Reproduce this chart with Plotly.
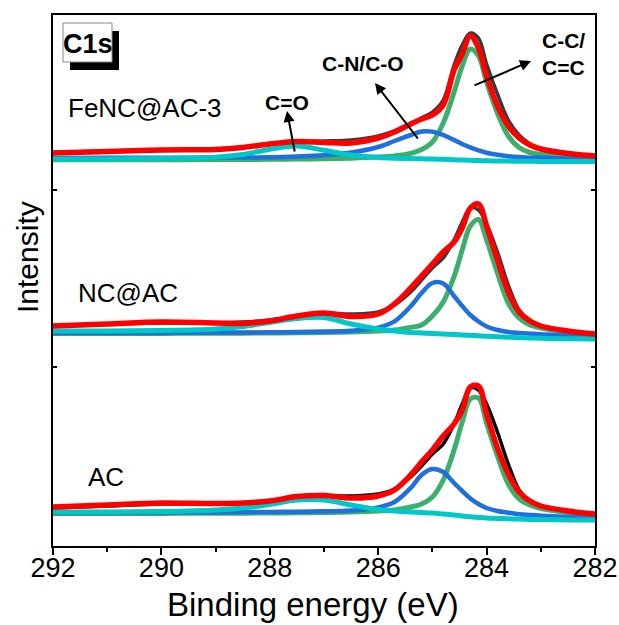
import numpy as np
import plotly.graph_objects as go

# Binding energy grid (eV)
energy = [292, 291, 290, 289, 288.5, 288, 287.5, 287, 286.5, 286, 285.7, 285.4, 285.2,
          285.0, 284.8, 284.6, 284.45, 284.3, 284.15, 284.0, 283.8, 283.6, 283.4, 283.2,
          283.0, 282.5, 282]

# FeNC@AC-3
fenc_raw = [9.5, 11, 12, 13, 15, 18, 20, 21, 22, 26, 31, 38, 44, 50, 62, 97, 117, 129, 124, 98, 68, 42, 27, 18, 13, 8, 5.5]
fenc_env = [9, 10.5, 12, 12.5, 14.5, 18, 20.5, 19.5, 19, 24, 30, 38, 43, 47, 57, 92, 108, 126, 114, 86, 56, 36, 24, 17, 13, 8.5, 6]
fenc_cc = [2.2, 2.2, 2.3, 2.4, 2.5, 2.7, 2.9, 3.2, 3.8, 4.9, 6.1, 8.6, 12.5, 20, 39, 70, 96, 113, 106, 80, 49, 26, 14.5, 9.5, 7.5, 5.8, 4.5]
fenc_cn = [4.1, 4.2, 4.3, 4.4, 4.5, 4.7, 5.5, 6.8, 9.5, 15, 21, 27, 30.5, 30.4, 27, 22, 18, 14.6, 11.7, 9.2, 7.2, 5.8, 4.9, 4.3, 4.2, 3.6, 3]
fenc_co = [3, 3.1, 3.5, 4.8, 7.5, 12.7, 16, 11.8, 6.9, 4.5, 3.8, 3.5, 3.2, 3.0, 2.7, 2.3, 2, 1.7, 1.4, 1.2, 1, 0.9, 0.8, 0.7, 0.6, 0.5, 0.5]

# NC@AC
nc_raw = [14.5, 16, 17, 17, 18, 20, 24, 27, 26, 28, 35, 48, 60, 72, 82, 100, 118, 132, 130, 116, 88, 55, 30, 19, 13, 8, 5.5]
nc_env = [14, 16, 18, 17, 16.5, 19, 24, 27, 23.5, 26, 36, 52, 64, 76, 88, 98, 112, 132, 136, 114, 80, 48, 28, 19, 14, 9, 6]
nc_cc = [6.5, 6.5, 6.6, 6.7, 6.8, 7, 7.2, 7.5, 8, 9, 10, 12.6, 15, 24, 38, 63.5, 90, 114, 120.5, 100, 67, 37, 22, 15, 12, 8.5, 5.5]
nc_cn = [7, 7, 7.1, 7.4, 7.5, 7.7, 7.9, 8.4, 9.3, 12.4, 18.6, 33.7, 47, 57, 56.5, 44, 34, 25, 18.5, 13.5, 10, 8, 7, 6.3, 5.7, 5, 4.5]
nc_co = [9, 9, 9.5, 11, 13.5, 17.5, 21.5, 22.5, 16, 11, 9, 7.5, 7, 6.5, 6, 5.5, 5, 4.6, 4.2, 3.8, 3.3, 2.8, 2.3, 2, 1.7, 1.2, 1]

# AC
ac_raw = [14, 16, 18, 18, 19, 21, 24, 26, 26, 28, 33, 45, 56, 68, 78, 98, 118, 134, 132, 118, 90, 58, 32, 20, 15, 10, 7]
ac_env = [15, 17, 19, 18.5, 19, 21, 25.5, 26.5, 24, 26, 32, 47, 60, 72, 86, 98, 112, 135, 136, 108, 74, 48, 30, 21, 16, 11, 8]
ac_cc = [8.5, 8.5, 8.6, 8.7, 8.8, 9, 9.2, 9.5, 10, 11, 12, 15, 18, 25, 42, 72, 100, 123, 124, 99, 66, 38, 23, 17, 13.5, 9.5, 7]
ac_cn = [9.5, 9.5, 9.6, 9.8, 9.9, 10, 10.3, 10.7, 11.5, 14.5, 20, 34, 47, 53, 50, 39, 31, 23.5, 18, 14, 11, 9.3, 7.8, 7, 6.3, 5, 4]
ac_co = [10, 10, 10.5, 12, 14, 17.5, 22, 22, 17, 12.5, 11, 10, 9.5, 9, 8, 7, 6, 5.2, 4.6, 4, 3.6, 3.2, 2.9, 2.6, 2.4, 2.1, 2]

sample_names = ["FeNC@AC-3", "NC@AC", "AC"]
stack_offsets = [384, 206, 24]

RED = "#FF0000"
GREEN = "#3BAF6B"
BLUE = "#1F6FDE"
CYAN = "#00C8C8"
FONT = "Liberation Sans, Arial, sans-serif"

panels = [
    (fenc_raw, fenc_env, fenc_cc, fenc_cn, fenc_co, "#3A3A3A"),
    (nc_raw, nc_env, nc_cc, nc_cn, nc_co, "#3A3A3A"),
    (ac_raw, ac_env, ac_cc, ac_cn, ac_co, "#000000"),
]

fig = go.Figure()
for name, off, (raw, env, cc, cn, co, raw_col) in zip(sample_names, stack_offsets, panels):
    for vals, col, w in [(raw, raw_col, 3.5), (cc, GREEN, 5), (cn, BLUE, 4.5),
                         (co, CYAN, 5), (env, RED, 5.5)]:
        fig.add_trace(go.Scatter(
            x=energy, y=np.array(vals) + off, mode="lines",
            line=dict(color=col, width=w, shape="spline", smoothing=1.0),
            showlegend=False, hoverinfo="skip", name=name))

# plot area in pixels
L, R, T, B = 53, 595, 15, 546
W, H = 619, 625


def px(x):
    return (x - L) / (R - L)


def py(y):
    return (B - y) / (B - T)


def label(x, y, text, size, bold=False, xanchor="center", **kw):
    return dict(x=px(x), y=py(y), xref="paper", yref="paper",
                text=f"<b>{text}</b>" if bold else text, showarrow=False,
                xanchor=xanchor, yanchor="middle",
                font=dict(family=FONT, size=size, color="black"), **kw)


annotations = []
# sample names
for name, (xl, yc) in zip(sample_names, [(66, 108), (76, 293), (86, 477)]):
    annotations.append(label(xl, yc, name, 26, xanchor="left"))

# component labels
annotations.append(label(287, 102, "C=O", 21, bold=True))
annotations.append(label(363, 64, "C-N/C-O", 21, bold=True))
annotations.append(label(540, 54, "C-C/<br>C=C", 21, bold=True, xanchor="left", align="left"))

# arrows: (head x, head y, tail dx, tail dy)
for hx, hy, dx, dy in [(287, 111, 8, 42), (375, 83, 44, 57), (531, 61, -58, 25)]:
    annotations.append(dict(x=px(hx), y=py(hy), xref="paper", yref="paper", text="",
                            showarrow=True, ax=dx, ay=dy, arrowhead=2, arrowsize=1.1,
                            arrowwidth=2, arrowcolor="black"))

# C1s tag
annotations.append(label(88, 44, "C1s", 27, bold=True))

# axis titles
annotations.append(label(27, 257, "Intensity", 30, textangle=-90))
annotations.append(label(313, 604, "Binding energy (eV)", 33))

shapes = [
    dict(type="rect", xref="paper", yref="paper", x0=px(70), x1=px(119), y0=py(31), y1=py(70),
         fillcolor="black", line=dict(width=0), layer="above"),
    dict(type="rect", xref="paper", yref="paper", x0=px(63), x1=px(112), y0=py(23), y1=py(62),
         fillcolor="white", line=dict(color="#8A8A8A", width=1), layer="above"),
]

fig.update_layout(
    width=W, height=H, autosize=False,
    margin=dict(l=L, r=W - R, t=T, b=H - B, pad=0, autoexpand=False),
    paper_bgcolor="white", plot_bgcolor="white",
    annotations=annotations, shapes=shapes,
    xaxis=dict(range=[292, 282], tickvals=[292, 290, 288, 286, 284, 282],
               ticks="outside", ticklen=7, tickwidth=2, tickcolor="black",
               minor=dict(tickvals=[291, 289, 287, 285, 283], ticks="outside",
                          ticklen=4, tickwidth=2, tickcolor="black"),
               ticklabelstandoff=-10, automargin=False,
               showline=True, linewidth=2, linecolor="black", mirror=True,
               showgrid=False, zeroline=False,
               tickfont=dict(family=FONT, size=27, color="black")),
    yaxis=dict(range=[0, B - T], tickvals=[179, 356], ticks="inside", ticklen=4,
               tickwidth=2, tickcolor="black", showticklabels=False, automargin=False,
               showline=True, linewidth=2, linecolor="black", mirror="ticks",
               showgrid=False, zeroline=False),
)

fig.write_html("out.html")
